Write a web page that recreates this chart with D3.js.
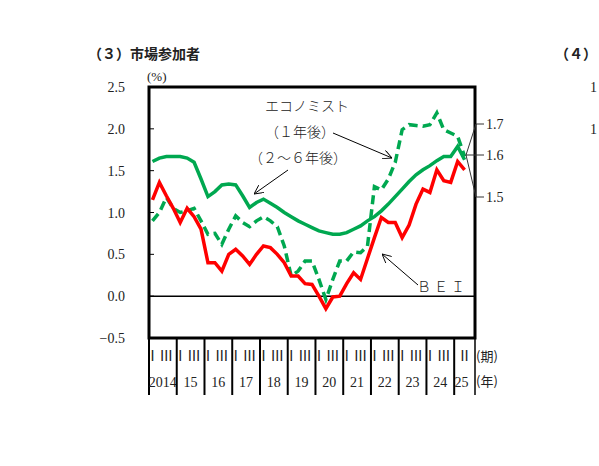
<!DOCTYPE html>
<html>
<head>
<meta charset="utf-8">
<script src="https://cdnjs.cloudflare.com/ajax/libs/d3/7.8.5/d3.min.js"></script>
<style>
body { margin: 0; background: white; }
text { font-family: "Liberation Serif", "Noto Sans CJK JP", serif; fill: #222; }
.jp { font-family: "Noto Sans CJK JP", sans-serif; }
</style>
</head>
<body>
<svg width="599" height="466"></svg>
<script>
// quarterly values 2014Q1 .. 2025Q2
var bei = [1.15,1.36,1.2,1.05,0.88,1.05,0.95,0.8,0.4,0.4,0.3,0.5,0.56,0.48,0.38,0.5,
  0.6,0.58,0.5,0.4,0.24,0.24,0.15,0.14,0.0,-0.15,-0.01,0,0.15,0.28,0.2,0.45,
  0.7,0.94,0.88,0.88,0.7,0.85,1.1,1.28,1.24,1.51,1.38,1.36,1.61,1.51];
var eco26 = [1.61,1.65,1.67,1.67,1.67,1.65,1.6,1.4,1.19,1.25,1.33,1.34,1.33,1.2,1.06,1.12,
  1.16,1.11,1.06,1.0,0.95,0.9,0.86,0.82,0.78,0.76,0.74,0.74,0.76,0.8,0.84,0.9,
  0.95,1.02,1.1,1.19,1.28,1.37,1.45,1.51,1.56,1.62,1.67,1.67,1.79,1.63];
var eco1 = [0.9,1.0,1.18,1.05,1.0,1.02,1.05,0.9,0.74,0.75,0.62,0.8,0.96,0.88,0.83,0.9,
  0.95,0.9,0.83,0.6,0.24,0.3,0.42,0.42,0.2,-0.04,0.2,0.42,0.42,0.53,0.52,0.6,
  1.31,1.27,1.4,1.6,1.99,2.05,2.04,2.03,2.05,2.19,1.99,1.95,1.91,1.67];
var years = ["2014","15","16","17","18","19","20","21","22","23","24","25"];
var yTicks = [2.5,2.0,1.5,1.0,0.5,0.0,-0.5];
var bracketLabels = ["1.7","1.6","1.5"];

var svg = d3.select("svg");
var x = d3.scaleLinear().domain([0, 47]).range([149, 475]);
var y = d3.scaleLinear().domain([-0.5, 2.5]).range([338, 87]);
var qx = function(i) { return x(i + 0.5); };

svg.append("text").attr("class", "jp").attr("x", 88).attr("y", 59)
  .style("font-size", "14px").style("font-weight", "bold").text("（３）市場参加者");
svg.append("text").attr("class", "jp").attr("x", 555).attr("y", 59)
  .style("font-size", "14px").style("font-weight", "bold").text("（４）");
svg.append("text").attr("x", 147).attr("y", 81).style("font-size", "13px").text("(%)");
svg.append("text").attr("x", 590).attr("y", 92).style("font-size", "14px").text("1");
svg.append("text").attr("x", 590).attr("y", 134).style("font-size", "14px").text("1");

// y axis labels and inner ticks
yTicks.forEach(function(t) {
  svg.append("text").attr("x", 125).attr("y", y(t) + 5).attr("text-anchor", "end")
    .style("font-size", "14px").text(t < 0 ? "−" + Math.abs(t).toFixed(1) : t.toFixed(1));
  svg.append("line").attr("x1", x(0)).attr("x2", x(0) + 5).attr("y1", y(t)).attr("y2", y(t))
    .attr("stroke", "black");
});
svg.append("line").attr("x1", x(0)).attr("x2", x(47)).attr("y1", y(0)).attr("y2", y(0))
  .attr("stroke", "black").attr("stroke-width", 1.5);

var line = function(d) {
  return d3.line().x(function(v, i) { return qx(i); }).y(function(v) { return y(v); })(d);
};
svg.append("path").attr("d", line(eco1)).attr("fill", "none").attr("stroke", "#00a850")
  .attr("stroke-width", 3.5).attr("stroke-dasharray", "9,5");
svg.append("path").attr("d", line(eco26)).attr("fill", "none").attr("stroke", "#00a850")
  .attr("stroke-width", 3.5);
svg.append("path").attr("d", line(bei)).attr("fill", "none").attr("stroke", "#ff0000")
  .attr("stroke-width", 3.5);

// frame
svg.append("rect").attr("x", x(0)).attr("y", y(2.5)).attr("width", x(47) - x(0))
  .attr("height", y(-0.5) - y(2.5)).attr("fill", "none").attr("stroke", "black").attr("stroke-width", 3);

// x axis: year separators, quarter marks, year labels
years.forEach(function(yr, k) {
  var x0 = x(k * 4);
  svg.append("line").attr("x1", x0).attr("x2", x0).attr("y1", y(-0.5)).attr("y2", 395)
    .attr("stroke", "black").attr("stroke-width", 2);
  var marks = k === 11 ? [[1, "Ⅱ"]] : [[0, "Ⅰ"], [2, "Ⅲ"]];
  marks.forEach(function(m) {
    svg.append("text").attr("x", qx(k * 4 + m[0])).attr("y", 361).attr("text-anchor", "middle")
      .style("font-size", "14px").text(m[1]);
  });
  var xc = k === 11 ? qx(45) - 3 : x(k * 4 + 2);
  svg.append("text").attr("x", xc).attr("y", 387).attr("text-anchor", "middle")
    .style("font-size", "14px").text(yr);
});
svg.append("line").attr("x1", x(47)).attr("x2", x(47)).attr("y1", y(-0.5)).attr("y2", 395)
  .attr("stroke", "black").attr("stroke-width", 1.5);
svg.append("text").attr("class", "jp").attr("x", 476).attr("y", 361).style("font-size", "13px").text("(期)");
svg.append("text").attr("class", "jp").attr("x", 476).attr("y", 386).style("font-size", "13px").text("(年)");

// right bracket
var by = [124, 155, 197];
svg.append("path").attr("d", "M484," + by[0] + " H476 L466," + by[1] + " L476," + by[2] + " H484 M476," + by[0] + " V" + by[2] + " M466," + by[1] + " H484")
  .attr("fill", "none").attr("stroke", "#333").attr("stroke-width", 1);
bracketLabels.forEach(function(l, i) {
  svg.append("text").attr("x", 486).attr("y", by[i] + 5).style("font-size", "14px").text(l);
});

// annotations
var ann = [["エコノミスト", 307, 111], ["（１年後）", 300, 137], ["（２～６年後）", 298, 163], ["Ｂ Ｅ Ｉ", 441, 292]];
ann.forEach(function(a) {
  svg.append("text").attr("class", "jp").attr("x", a[1]).attr("y", a[2]).attr("text-anchor", "middle")
    .style("font-size", "14px").style("font-weight", "300").text(a[0]);
});
svg.append("defs").append("marker").attr("id", "ar").attr("viewBox", "0 0 10 10").attr("refX", 10).attr("refY", 5)
  .attr("markerWidth", 9).attr("markerHeight", 9).attr("orient", "auto")
  .append("path").attr("d", "M0,0 L10,5 L0,10").attr("fill", "none").attr("stroke", "black");
[[333, 133, 392, 158], [288, 170, 254, 194], [418, 285, 382, 254]].forEach(function(a) {
  svg.append("line").attr("x1", a[0]).attr("y1", a[1]).attr("x2", a[2]).attr("y2", a[3])
    .attr("stroke", "black").attr("stroke-width", 1).attr("marker-end", "url(#ar)");
});
</script>
</body>
</html>
